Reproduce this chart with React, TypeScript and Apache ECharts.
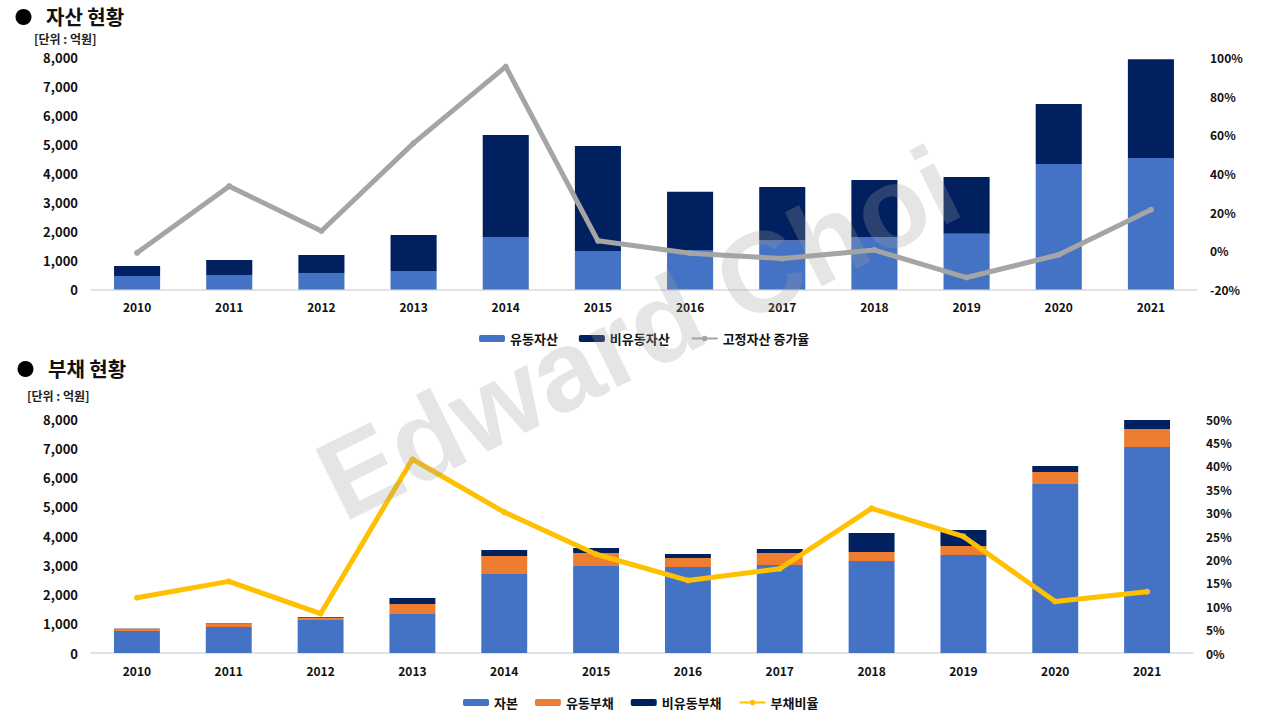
import React, { useEffect, useRef } from 'react';
import * as echarts from 'echarts';

const years = ['2010', '2011', '2012', '2013', '2014', '2015', '2016', '2017', '2018', '2019', '2020', '2021'];

// 자산 현황 (억원)
const currentAssets = [470, 500, 570, 640, 1810, 1330, 1360, 1690, 1810, 1920, 4330, 4540];
const nonCurrentAssets = [340, 520, 620, 1240, 3520, 3620, 2010, 1850, 1970, 1960, 2070, 3410];
const fixedAssetGrowth = [-1, 33.5, 10.3, 55.8, 95.4, 5.2, -1.2, -4.0, 0.4, -13.8, -2.0, 21.3];

// 부채 현황 (억원)
const equity = [750, 890, 1130, 1335, 2700, 2975, 2940, 3010, 3145, 3350, 5780, 7040];
const currentLiab = [80, 130, 65, 340, 615, 445, 310, 410, 310, 310, 410, 620];
const nonCurrentLiab = [8, 6, 30, 205, 205, 170, 135, 135, 645, 545, 200, 305];
const debtRatio = [11.8, 15.3, 8.4, 41.4, 30.1, 21.1, 15.5, 18.0, 30.9, 24.9, 11.0, 13.1];

const FONT = "'Noto Sans CJK KR', 'Noto Sans', sans-serif";
const BLUE = '#4472C4';
const NAVY = '#002060';
const ORANGE = '#ED7D31';
const GRAY = '#A5A5A5';
const GOLD = '#FFC000';

const axisLabelStyle = { color: '#111', fontSize: 12, fontWeight: 'bold' as const, fontFamily: FONT };

function xAxisFor(gridIndex: number) {
  return {
    type: 'category',
    gridIndex,
    data: years,
    axisLine: { lineStyle: { color: '#D9D9D9', width: 1.5 } },
    axisTick: { show: false },
    axisLabel: { ...axisLabelStyle, margin: 11 },
  };
}

export default function App() {
  const ref = useRef<HTMLDivElement>(null);
  useEffect(() => {
    document.body.style.margin = '0';
    const chart = echarts.init(ref.current!, null, { renderer: 'svg' });
    const option = {
      animation: false,
      backgroundColor: '#fff',
      textStyle: { fontFamily: FONT },
      grid: [
        { left: 91, right: 83, top: 57.7, height: 231.8 },
        { left: 91, right: 87, top: 419, height: 234 },
      ],
      xAxis: [xAxisFor(0), xAxisFor(1)],
      yAxis: [
        {
          type: 'value', gridIndex: 0, min: 0, max: 8000, interval: 1000, position: 'left',
          splitLine: { show: false }, axisLine: { show: false }, axisTick: { show: false },
          axisLabel: { ...axisLabelStyle, fontSize: 13, margin: 13, formatter: (v: number) => v.toLocaleString('en-US') },
        },
        {
          type: 'value', gridIndex: 0, min: -20, max: 100, interval: 20, position: 'right',
          splitLine: { show: false }, axisLine: { show: false }, axisTick: { show: false },
          axisLabel: { ...axisLabelStyle, margin: 13, formatter: '{value}%' },
        },
        {
          type: 'value', gridIndex: 1, min: 0, max: 8000, interval: 1000, position: 'left',
          splitLine: { show: false }, axisLine: { show: false }, axisTick: { show: false },
          axisLabel: { ...axisLabelStyle, fontSize: 13, margin: 13, formatter: (v: number) => v.toLocaleString('en-US') },
        },
        {
          type: 'value', gridIndex: 1, min: 0, max: 50, interval: 5, position: 'right',
          splitLine: { show: false }, axisLine: { show: false }, axisTick: { show: false },
          axisLabel: { ...axisLabelStyle, margin: 13, formatter: '{value}%' },
        },
      ],
      legend: [
        {
          data: ['유동자산', '비유동자산', '고정자산 증가율'],
          left: 474, top: 327, itemWidth: 26, itemHeight: 7, itemGap: 21,
          textStyle: { fontSize: 13, fontWeight: 'bold', color: '#111', fontFamily: FONT },
        },
        {
          data: ['자본', '유동부채', '비유동부채', '부채비율'],
          left: 458, top: 691, itemWidth: 26, itemHeight: 7, itemGap: 17,
          textStyle: { fontSize: 13, fontWeight: 'bold', color: '#111', fontFamily: FONT },
        },
      ],
      series: [
        { name: '유동자산', type: 'bar', stack: 'a', xAxisIndex: 0, yAxisIndex: 0, barWidth: '50%', itemStyle: { color: BLUE }, data: currentAssets },
        { name: '비유동자산', type: 'bar', stack: 'a', xAxisIndex: 0, yAxisIndex: 0, barWidth: '50%', itemStyle: { color: NAVY }, data: nonCurrentAssets },
        {
          name: '고정자산 증가율', type: 'line', xAxisIndex: 0, yAxisIndex: 1, z: 5,
          symbol: 'circle', symbolSize: 6, lineStyle: { color: GRAY, width: 5 }, itemStyle: { color: GRAY },
          data: fixedAssetGrowth,
        },
        { name: '자본', type: 'bar', stack: 'b', xAxisIndex: 1, yAxisIndex: 2, barWidth: '50%', itemStyle: { color: BLUE }, data: equity },
        { name: '유동부채', type: 'bar', stack: 'b', xAxisIndex: 1, yAxisIndex: 2, barWidth: '50%', itemStyle: { color: ORANGE }, data: currentLiab },
        { name: '비유동부채', type: 'bar', stack: 'b', xAxisIndex: 1, yAxisIndex: 2, barWidth: '50%', itemStyle: { color: NAVY }, data: nonCurrentLiab },
        {
          name: '부채비율', type: 'line', xAxisIndex: 1, yAxisIndex: 3, z: 5,
          symbol: 'circle', symbolSize: 6, lineStyle: { color: GOLD, width: 5 }, itemStyle: { color: GOLD },
          data: debtRatio,
        },
      ],
      graphic: [
        { type: 'circle', shape: { cx: 23.5, cy: 17, r: 8 }, style: { fill: '#000' } },
        { type: 'text', x: 46, y: 16, style: { text: '자산 현황', font: `bold 20px ${FONT}`, fill: '#111', verticalAlign: 'middle' } },
        { type: 'text', x: 34, y: 38, style: { text: '[단위 : 억원]', font: `bold 12px ${FONT}`, fill: '#222', verticalAlign: 'middle' } },
        { type: 'circle', shape: { cx: 25.5, cy: 369, r: 8 }, style: { fill: '#000' } },
        { type: 'text', x: 48, y: 368, style: { text: '부채 현황', font: `bold 20px ${FONT}`, fill: '#111', verticalAlign: 'middle' } },
        { type: 'text', x: 27, y: 395, style: { text: '[단위 : 억원]', font: `bold 12px ${FONT}`, fill: '#222', verticalAlign: 'middle' } },
        {
          type: 'text', x: 638, y: 333, rotation: 0.46, z: 100,
          style: {
            text: 'Edward Choi', font: "bold 114px 'Liberation Sans', Arial, sans-serif",
            fill: 'rgba(160,160,160,0.27)', align: 'center', verticalAlign: 'middle',
          },
        },
      ],
    };
    chart.setOption(option as any);
    return () => chart.dispose();
  }, []);
  return <div ref={ref} style={{ width: 1280, height: 720 }} />;
}
